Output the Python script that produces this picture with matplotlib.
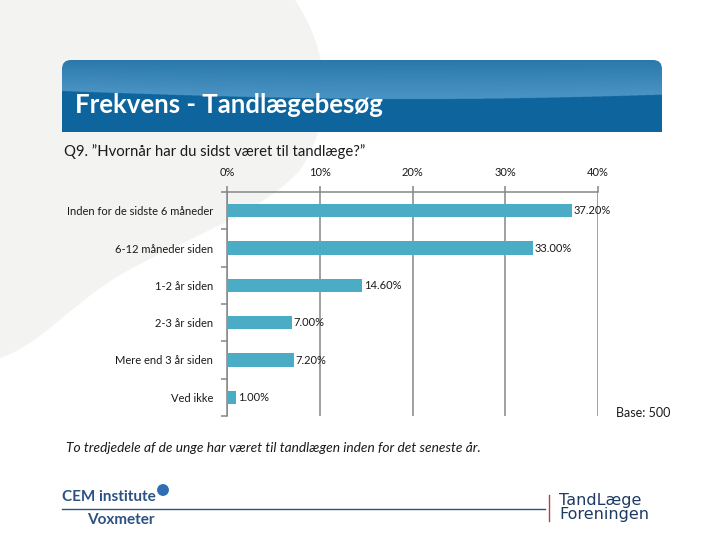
import matplotlib

matplotlib.use("Agg")
import matplotlib.pyplot as plt
import numpy as np
from matplotlib.patches import FancyBboxPatch, PathPatch, Circle
from matplotlib.path import Path

plt.rcParams["font.family"] = ["Lato", "DejaVu Sans"]

# ---------------------------------------------------------------------------
# data
# ---------------------------------------------------------------------------
categories = [
    "Inden for de sidste 6 måneder",
    "6-12 måneder siden",
    "1-2 år siden",
    "2-3 år siden",
    "Mere end 3 år siden",
    "Ved ikke",
]
values = [37.2, 33.0, 14.6, 7.0, 7.2, 1.0]
xticks = [0, 10, 20, 30, 40]
xticklabels = ["0%", "10%", "20%", "30%", "40%"]

title = "Frekvens - Tandlægebesøg"
question = "Q9. \u201dHvornår har du sidst været til tandlæge?\u201d"
base_text = "Base: 500"
footnote = "To tredjedele af de unge har været til tandlægen inden for det seneste år."

BAR_COLOR = "#4bacc6"
GRID_COLOR = "#868686"

W, H = 720, 540
fig = plt.figure(figsize=(7.2, 5.4), dpi=100)
fig.patch.set_facecolor("white")


def fx(px):
    return px / W


def fy(py):
    return 1 - py / H


# background layer in pixel coordinates
bg = fig.add_axes([0, 0, 1, 1], zorder=0)
bg.set_xlim(0, W)
bg.set_ylim(H, 0)
bg.axis("off")

# light grey swoosh on the left (smooth bezier outline)
verts = [(0, 0), (295, 0),
         (325, 45), (340, 110), (300, 170),
         (260, 215), (180, 240), (120, 275),
         (70, 305), (40, 345), (0, 358),
         (0, 0)]
codes = [Path.MOVETO, Path.LINETO,
         Path.CURVE4, Path.CURVE4, Path.CURVE4,
         Path.CURVE4, Path.CURVE4, Path.CURVE4,
         Path.CURVE4, Path.CURVE4, Path.CURVE4,
         Path.CLOSEPOLY]
bg.add_patch(PathPatch(Path(verts, codes), facecolor="#f3f3f2", edgecolor="none"))

# banner with gradient (supersampled so the edge stays smooth)
bx0, by0, bw, bh = 62, 60, 600, 72
ban = fig.add_axes([fx(bx0), fy(by0 + bh), fx(bw), bh / H], zorder=1)
ban.set_xlim(0, bw)
ban.set_ylim(bh, 0)
ban.axis("off")
ss = 4
xx = (np.arange(bw * ss)[None, :] + 0.5) / ss
yy = (np.arange(bh * ss)[:, None] + 0.5) / ss
divide = 31 + 8 * np.sin(np.pi * xx / bw * 0.85)
top_c = np.array([0x2a, 0x78, 0xab]) / 255
light_c = np.array([0x4a, 0x94, 0xc3]) / 255
dark_c = np.array([0x0f, 0x65, 0x9e]) / 255
t = np.clip(yy / divide, 0, 1)[..., None]
img = top_c * (1 - t) + light_c * t
img = np.where((yy < divide)[..., None], img, dark_c)
im = ban.imshow(img, extent=(0, bw, bh, 0), aspect="auto", interpolation="antialiased")
clip = FancyBboxPatch((0, 0), bw, bh + 30, boxstyle="round,pad=0,rounding_size=9",
                      transform=ban.transData, facecolor="none", edgecolor="none")
ban.add_patch(clip)
im.set_clip_path(clip)
ban.text(13, 45, title, color="white", fontsize=18.5, fontweight="bold",
         va="center", ha="left")

# question text
fig.text(fx(64), fy(152), question, fontsize=10.7, ha="left", va="center", color="#1a1a1a")

# ---------------------------------------------------------------------------
# bar chart
# ---------------------------------------------------------------------------
ax = fig.add_axes([fx(227), fy(416), fx(598 - 227), (416 - 192) / H], zorder=2)
ax.patch.set_alpha(0)
y = np.arange(len(categories))
ax.barh(y, values, height=0.36, color=BAR_COLOR, zorder=3)
ax.set_xlim(0, 40)
ax.set_ylim(len(categories) - 0.5, -0.5)
ax.set_xticks(xticks)
ax.set_xticklabels(xticklabels)
ax.xaxis.tick_top()
ax.tick_params(axis="x", length=4, width=1.1, color=GRID_COLOR, labelsize=8,
               pad=6, labelcolor="#1a1a1a")
ax.set_yticks(np.arange(len(categories) + 1) - 0.5, minor=False)
ax.set_yticklabels([])
ax.set_yticks(y, minor=True)
ax.set_yticklabels(categories, minor=True)
ax.tick_params(axis="y", which="major", length=4, width=1.1, color=GRID_COLOR)
ax.tick_params(axis="y", which="minor", length=0, labelsize=8, pad=10,
               labelcolor="#1a1a1a")
ax.grid(axis="x", color=GRID_COLOR, linewidth=1.1, zorder=1)
for side in ["right", "bottom"]:
    ax.spines[side].set_visible(False)
for side in ["left", "top"]:
    ax.spines[side].set_color(GRID_COLOR)
    ax.spines[side].set_linewidth(1.1)
for yi, v in zip(y, values):
    ax.text(v + 0.15, yi, f"{v:.2f}%", va="center", ha="left", fontsize=8,
            color="#1a1a1a", zorder=4)

fig.text(fx(670), fy(413), base_text, fontsize=9, ha="right", va="center", color="#1a1a1a")
fig.text(fx(66), fy(448), footnote, fontsize=9.9, style="italic", ha="left",
         va="center", color="#1a1a1a")

# ---------------------------------------------------------------------------
# footer logos (as text)
# ---------------------------------------------------------------------------
LOGO_BLUE = "#2c5283"
bg.text(62, 497, "CEM institute", fontsize=11, fontweight="bold", color=LOGO_BLUE,
        ha="left", va="center")
bg.add_patch(Circle((163, 490), 6.5, facecolor="#2f6db5", edgecolor="white", lw=0.8))
bg.plot([62, 545], [509, 509], color=LOGO_BLUE, lw=1.0)
bg.text(87, 520, "Voxmeter", fontsize=11, fontweight="bold", color=LOGO_BLUE,
        ha="left", va="center")
bg.plot([549, 549], [495, 521], color="#c43a4c", lw=1.0)
bg.text(559, 501, "TandLæge", fontsize=11.5, color="#1d3b63", ha="left", va="center",
        family=["DejaVu Sans"])
bg.text(559, 515, "Foreningen", fontsize=11.5, color="#1d3b63", ha="left", va="center",
        family=["DejaVu Sans"])

fig.savefig("out.png", dpi=100)
